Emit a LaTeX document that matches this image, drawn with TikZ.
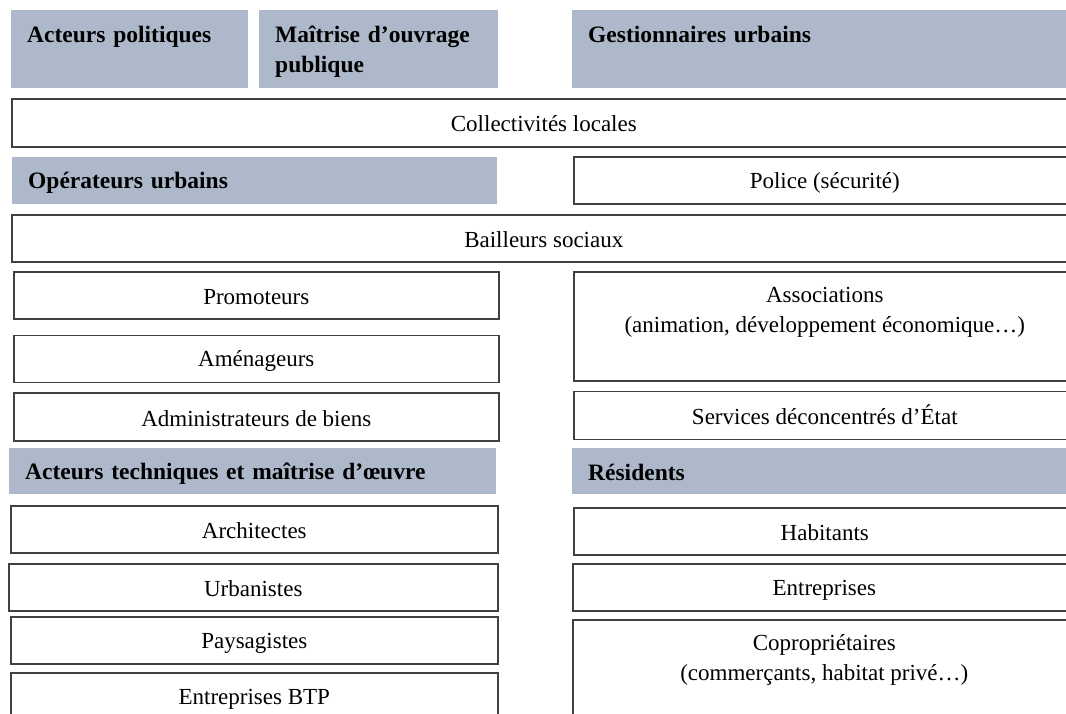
\documentclass[tikz,border=0pt]{standalone}
\usepackage{fontspec}
\setmainfont{Liberation Serif}
\usetikzlibrary{positioning}
\definecolor{hdrblue}{HTML}{ADB9CA}
\newcommand{\boxstrut}{\rule[-3pt]{0pt}{24pt}}

\begin{document}
\begin{tikzpicture}[
    x=1pt, y=-1pt,
    hdr/.style={rectangle, fill=hdrblue, anchor=north west, inner xsep=16pt, inner ysep=0pt, align=left, font=\fontsize{23.5}{30}\selectfont\bfseries, execute at begin node=\boxstrut},
    actor/.style={rectangle, draw=black!75, line width=1.6pt, fill=white, anchor=north west, inner sep=0pt, align=center, font=\fontsize{23}{30}\selectfont, execute at begin node=\boxstrut}
]
\clip (0,0) rectangle (1066,713);
\fill[white] (0,0) rectangle (1066,713);

% Top row of groups
\node[hdr, text width=205pt, minimum height=78pt] (polit) at (11,10) {\rule{0pt}{26pt}Acteurs politiques\\ \strut};
\node[hdr, text width=207pt, minimum height=78pt] (moa) at (259,10) {\rule{0pt}{26pt}Maîtrise d’ouvrage\\publique\strut};
\node[hdr, text width=471pt, minimum height=78pt] (gest) at (572,10) {\rule{0pt}{26pt}Gestionnaires urbains\\ \strut};
\node[actor, minimum width=1064pt, minimum height=48pt] (coll) at (11,98) {Collectivités locales};

% Operateurs urbains
\node[hdr, text width=453pt, minimum height=47pt] (oper) at (12,157) {Opérateurs urbains};
\node[actor, minimum width=502pt, minimum height=47pt] (police) at (573,156) {Police (sécurité)};
\node[actor, minimum width=1064pt, minimum height=47pt] (bail) at (11,214) {Bailleurs sociaux};
\node[actor, minimum width=485pt, minimum height=47pt] (prom) at (13,271) {Promoteurs};
\node[actor, minimum width=485pt, minimum height=47pt, below=15pt of prom] (amen) {Aménageurs};
\node[actor, minimum width=485pt, minimum height=48pt, below=9pt of amen] (admin) {Administrateurs de biens};
\node[actor, minimum width=502pt, minimum height=109pt] (assoc) at (573,271) {Associations\\(animation, développement économique…)\\ \boxstrut};
\node[actor, minimum width=502pt, minimum height=48pt, below=9pt of assoc] (serv) {Services déconcentrés d’État};

% Maitrise d'oeuvre et residents
\node[hdr, text width=455pt, minimum height=46pt] (tech) at (9,448) {Acteurs techniques et maîtrise d’œuvre};
\node[hdr, text width=471pt, minimum height=46pt] (resid) at (572,448) {Résidents};
\node[actor, minimum width=487pt, minimum height=47pt] (archi) at (10,505) {Architectes};
\node[actor, minimum width=489pt, minimum height=47pt] (urba) at (8,563) {Urbanistes};
\node[actor, minimum width=487pt, minimum height=47pt] (paysa) at (10,616) {Paysagistes};
\node[actor, minimum width=487pt, minimum height=48pt] (btp) at (10,672) {Entreprises BTP};
\node[actor, minimum width=502pt, minimum height=47pt] (habit) at (573,507) {Habitants};
\node[actor, minimum width=503pt, minimum height=47pt] (entr) at (572,563) {Entreprises};
\node[actor, minimum width=503pt, minimum height=109pt] (copro) at (572,619) {Copropriétaires\\(commerçants, habitat privé…)\\ \boxstrut};

\end{tikzpicture}
\end{document}
